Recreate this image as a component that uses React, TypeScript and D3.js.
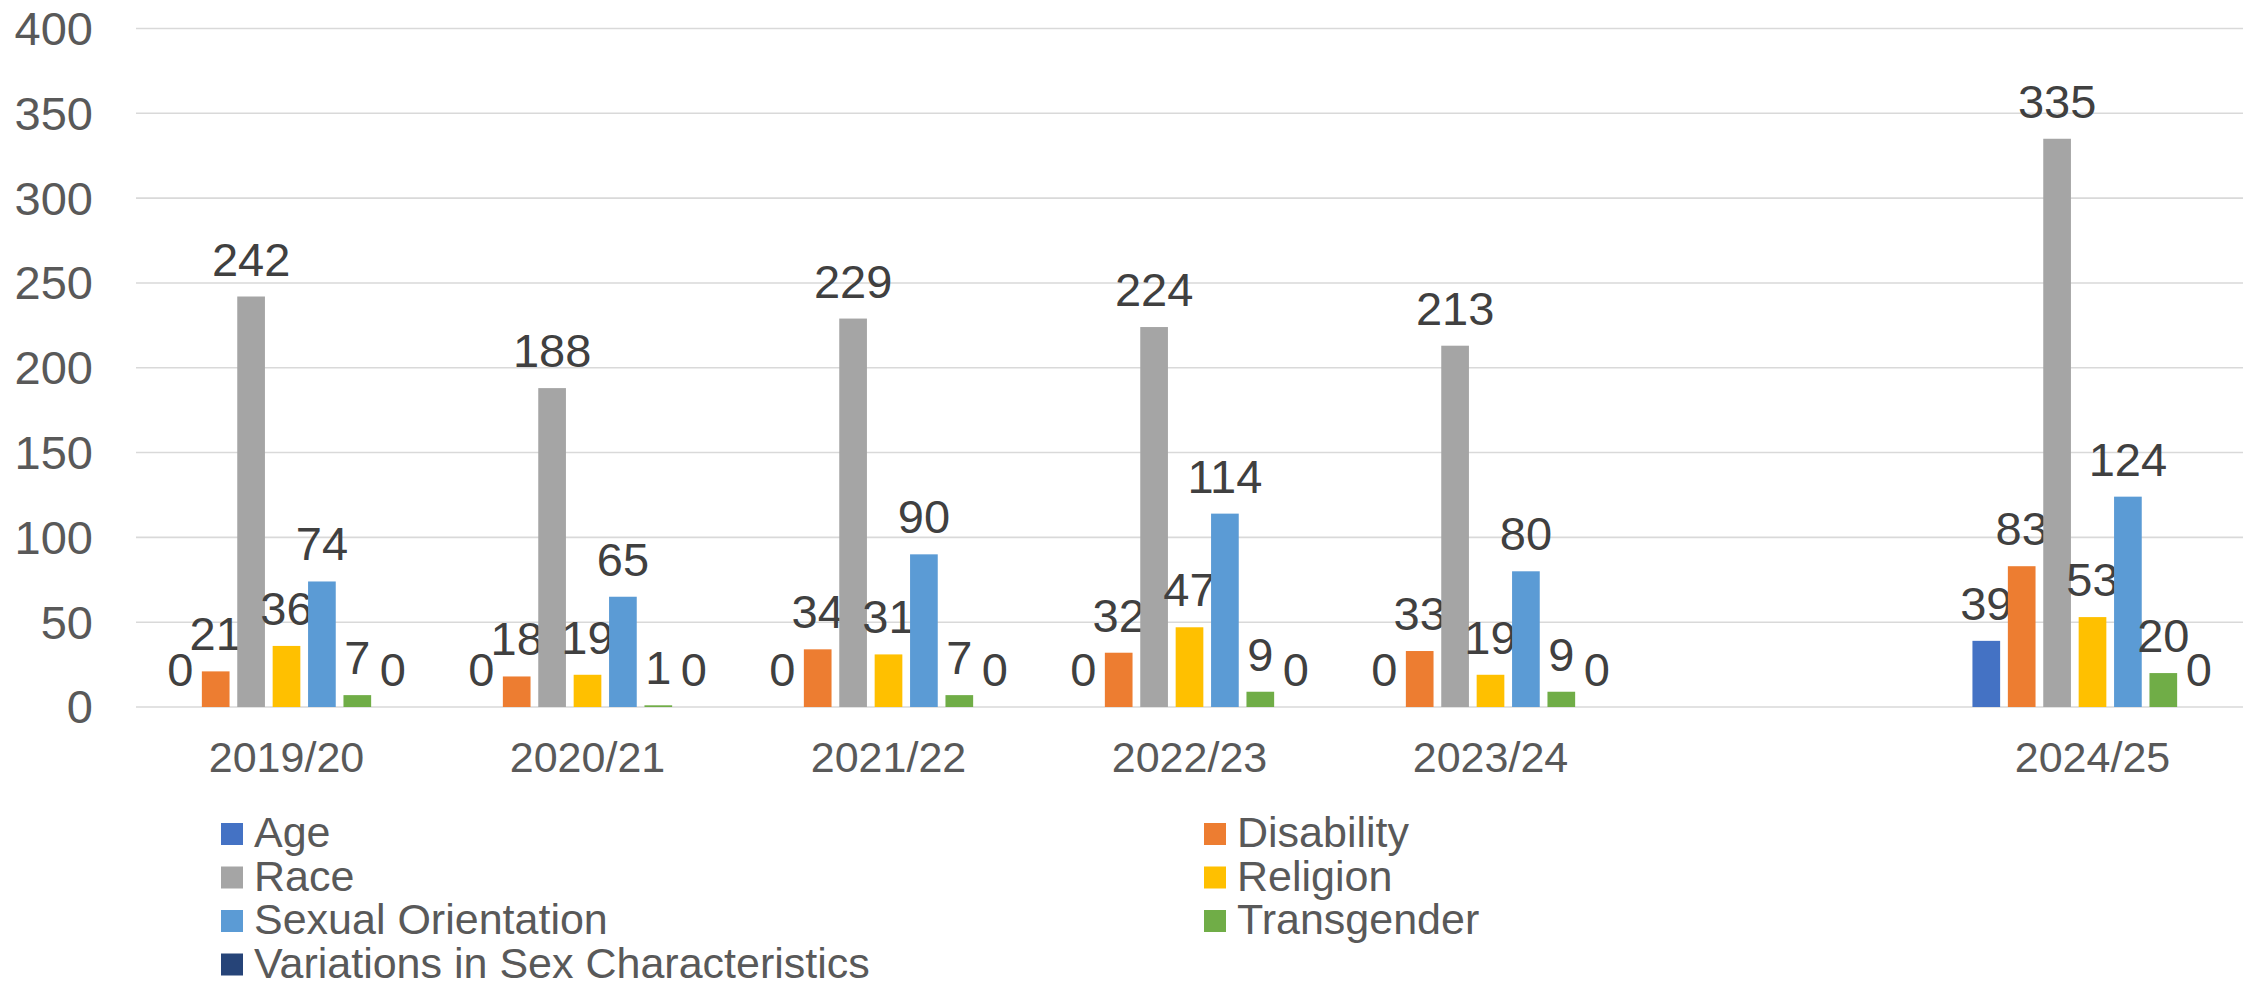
import * as React from "react";
import * as d3 from "d3";

// categories (the blank one is the empty slot before 2024/25)
const years = ["2019/20", "2020/21", "2021/22", "2022/23", "2023/24", "", "2024/25"];
const seriesNames = [
  "Age",
  "Disability",
  "Race",
  "Religion",
  "Sexual Orientation",
  "Transgender",
  "Variations in Sex Characteristics",
];
const seriesColors = ["#4472C4", "#ED7D31", "#A5A5A5", "#FFC000", "#5B9BD5", "#70AD47", "#264478"];

const ageValues = [0, 0, 0, 0, 0, null, 39];
const disabilityValues = [21, 18, 34, 32, 33, null, 83];
const raceValues = [242, 188, 229, 224, 213, null, 335];
const religionValues = [36, 19, 31, 47, 19, null, 53];
const sexualOrientationValues = [74, 65, 90, 114, 80, null, 124];
const transgenderValues = [7, 1, 7, 9, 9, null, 20];
const variationsValues = [0, 0, 0, 0, 0, null, 0];

const yTicks = [0, 50, 100, 150, 200, 250, 300, 350, 400];

const allValues = [
  ageValues,
  disabilityValues,
  raceValues,
  religionValues,
  sexualOrientationValues,
  transgenderValues,
  variationsValues,
];

const WIDTH = 2255;
const HEIGHT = 982;
const FONT = "'Liberation Sans', Arial, sans-serif";

export default class App extends React.Component {

  private svgRef = React.createRef<SVGSVGElement>();

  public componentDidMount() {
    this.drawChart();
  }

  public render() {
    return (
      <svg
        ref={this.svgRef}
        width={WIDTH}
        height={HEIGHT}
        style={{position: "absolute", left: 0, top: 0, background: "#fff"}}
      />
    );
  }

  private drawChart() {
    if (!this.svgRef.current) return;
    const svg = d3.select(this.svgRef.current);

    const plot = {left: 136, right: 2243, top: 28.5, bottom: 707};

    const x0 = d3.scaleBand<number>()
      .domain(years.map((_, i) => i))
      .range([plot.left, plot.right]);
    const x1 = d3.scaleBand<number>()
      .domain(seriesNames.map((_, i) => i))
      .range([0, x0.bandwidth()])
      .paddingInner(0.218)
      .paddingOuter(0.86);
    const y = d3.scaleLinear()
      .domain([0, 400])
      .range([plot.bottom, plot.top]);

    // gridlines
    svg.append("g")
      .selectAll("line")
      .data(yTicks)
      .enter().append("line")
      .attr("x1", plot.left)
      .attr("x2", plot.right)
      .attr("y1", d => y(d))
      .attr("y2", d => y(d))
      .attr("stroke", "#D9D9D9")
      .attr("stroke-width", 1.6);

    // y tick labels
    svg.append("g")
      .selectAll("text")
      .data(yTicks)
      .enter().append("text")
      .attr("x", 93)
      .attr("y", d => y(d))
      .attr("dy", "0.35em")
      .attr("text-anchor", "end")
      .attr("font-family", FONT)
      .attr("font-size", "47px")
      .attr("fill", "#595959")
      .text(d => d);

    // bars
    const groups = svg.append("g")
      .selectAll("g")
      .data(years.map((_, i) => i))
      .enter().append("g")
      .attr("transform", d => "translate(" + x0(d) + ",0)");

    const cells = groups.selectAll("g")
      .data(ci => seriesNames.map((_, si) => ({si, v: allValues[si][ci]})).filter(c => c.v !== null))
      .enter().append("g");

    cells.append("rect")
      .attr("x", c => x1(c.si)!)
      .attr("width", x1.bandwidth())
      .attr("y", c => y(c.v as number))
      .attr("height", c => y(0) - y(c.v as number))
      .attr("fill", c => seriesColors[c.si]);

    // data labels
    cells.append("text")
      .attr("x", c => x1(c.si)! + x1.bandwidth() / 2)
      .attr("y", c => y(c.v as number) - 21)
      .attr("text-anchor", "middle")
      .attr("font-family", FONT)
      .attr("font-size", "47px")
      .attr("fill", "#404040")
      .text(c => c.v as number);

    // category labels
    svg.append("g")
      .selectAll("text")
      .data(years)
      .enter().append("text")
      .attr("x", (_, i) => x0(i)! + x0.bandwidth() / 2)
      .attr("y", 772)
      .attr("text-anchor", "middle")
      .attr("font-family", FONT)
      .attr("font-size", "43px")
      .attr("fill", "#595959")
      .text(d => d);

    // legend, two columns
    const legendCols = [221, 1204];
    const legendTop = 834;
    const rowStep = 43.5;
    const legend = svg.append("g")
      .selectAll("g")
      .data(seriesNames)
      .enter().append("g")
      .attr("transform", (_, i) =>
        "translate(" + legendCols[i % 2] + "," + (legendTop + Math.floor(i / 2) * rowStep) + ")");

    legend.append("rect")
      .attr("x", 0)
      .attr("y", -11)
      .attr("width", 22)
      .attr("height", 22)
      .attr("fill", (_, i) => seriesColors[i]);

    legend.append("text")
      .attr("x", 33)
      .attr("y", 13)
      .attr("font-family", FONT)
      .attr("font-size", "43px")
      .attr("fill", "#595959")
      .text(d => d);
  }

}
